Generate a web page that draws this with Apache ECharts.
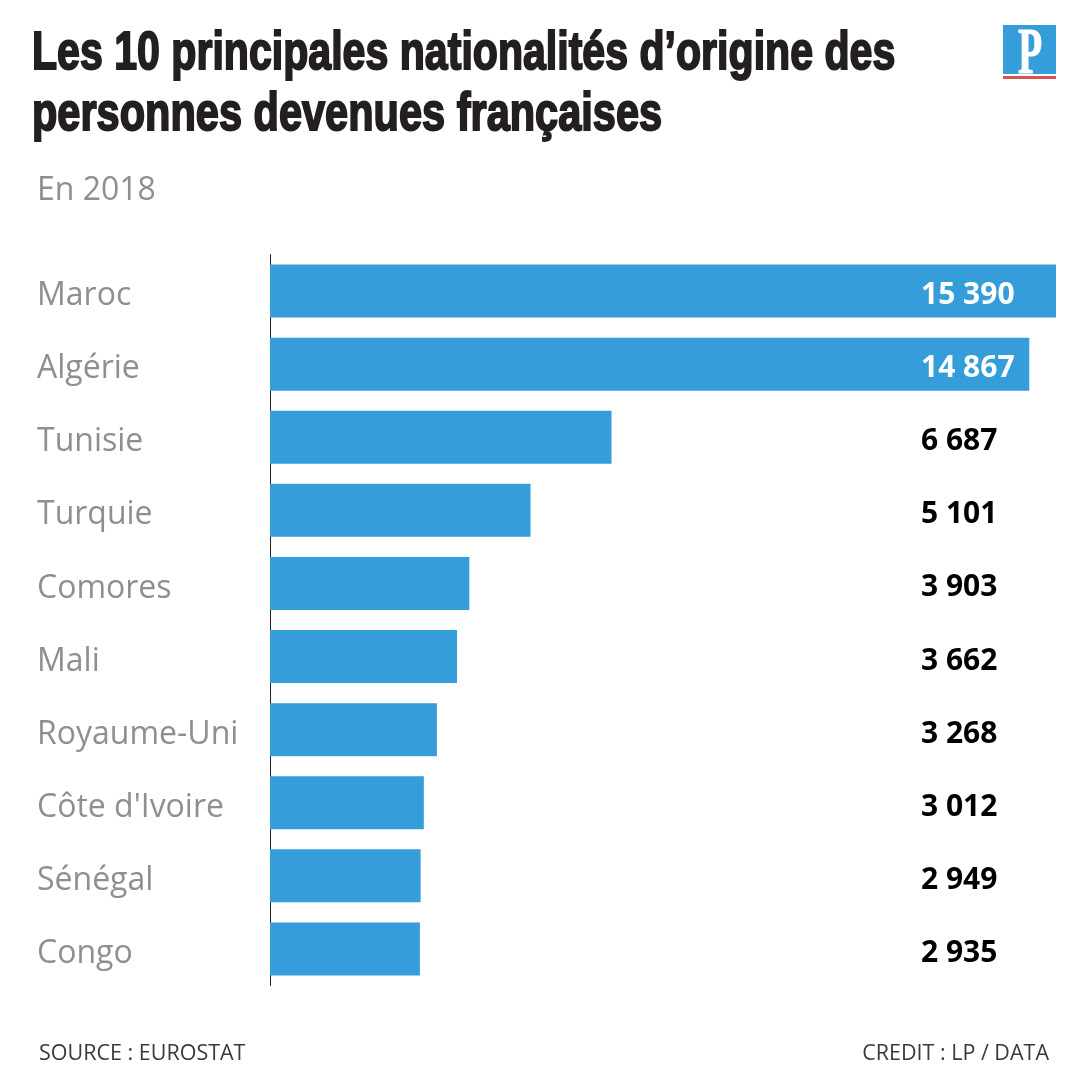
<!DOCTYPE html>
<html>
<head>
<meta charset="utf-8">
<script src="https://cdn.jsdelivr.net/npm/echarts@6/dist/echarts.min.js"></script>
<style>
html, body { margin: 0; padding: 0; background: #fff; }
#chart { width: 1080px; height: 1089px; }
</style>
</head>
<body>
<div id="chart"></div>
<script>
const countries = ['Maroc', 'Algérie', 'Tunisie', 'Turquie', 'Comores', 'Mali', 'Royaume-Uni', "Côte d'Ivoire", 'Sénégal', 'Congo'];
const persons = [15390, 14867, 6687, 5101, 3903, 3662, 3268, 3012, 2949, 2935];
const valueLabels = ['15 390', '14 867', '6 687', '5 101', '3 903', '3 662', '3 268', '3 012', '2 949', '2 935'];

const myChart = echarts.init(document.getElementById('chart'));

// the title face is a heavy condensed one, so squeeze a bold sans
function titleLine(text, y, squeeze) {
    return {
        type: 'text', x: 32, y: y, scaleX: squeeze,
        style: { text: text, fontFamily: 'Liberation Sans', fontSize: 54, fontWeight: 'bold', fill: '#231f20', stroke: '#231f20', lineWidth: 2 }
    };
}

const option = {
    backgroundColor: '#fff',
    animation: false,
    title: [
        {
            text: 'En 2018',
            left: 37, top: 175, padding: 0,
            textStyle: { fontFamily: 'Open Sans', fontSize: 32, fontWeight: 'normal', color: '#8f8f93' }
        },
        {
            text: 'SOURCE : EUROSTAT',
            left: 39, top: 1043, padding: 0,
            textStyle: { fontFamily: 'Open Sans', fontSize: 21.5, fontWeight: 'normal', color: '#3a3a3c' }
        },
        {
            text: 'CREDIT : LP / DATA',
            right: 31, top: 1043, padding: 0,
            textStyle: { fontFamily: 'Open Sans', fontSize: 21.5, fontWeight: 'normal', color: '#3a3a3c' }
        }
    ],
    graphic: [
        titleLine('Les 10 principales nationalités d’origine des', 27, 0.761),
        titleLine('personnes devenues françaises', 88, 0.769),
        { type: 'rect', shape: { x: 1003, y: 25, width: 53, height: 54 }, style: { fill: '#359dd9' } },
        { type: 'rect', shape: { x: 1003, y: 74, width: 53, height: 2 }, style: { fill: '#fff' } },
        { type: 'rect', shape: { x: 1003, y: 76, width: 53, height: 3 }, style: { fill: '#d9534f' } },
        {
            type: 'text', x: 1018, y: 23, scaleX: 0.6,
            style: { text: 'P', fontFamily: 'Liberation Serif', fontSize: 66, fontWeight: 'bold', fill: '#fff', stroke: '#fff', lineWidth: 1 }
        }
    ],
    grid: { left: 270, right: 24, top: 254.5, height: 731 },
    xAxis: { type: 'value', min: 0, max: 15390, show: false },
    yAxis: [
        {
            type: 'category',
            inverse: true,
            data: countries,
            axisTick: { show: false },
            axisLine: { show: true, lineStyle: { color: '#231f20', width: 1 } },
            axisLabel: {
                margin: 233,
                align: 'left',
                verticalAlign: 'top',
                lineHeight: 10,
                fontFamily: 'Open Sans',
                fontSize: 32,
                color: '#8f8f93'
            }
        },
        {
            type: 'category',
            inverse: true,
            position: 'right',
            data: valueLabels,
            axisTick: { show: false },
            axisLine: { show: false },
            z: 5,
            axisLabel: {
                margin: -135,
                align: 'left',
                verticalAlign: 'top',
                lineHeight: 9,
                fontFamily: 'Open Sans',
                fontWeight: 'bold',
                fontSize: 30,
                color: (v, i) => (i < 2 ? '#fff' : '#000')
            }
        }
    ],
    series: [
        {
            type: 'bar',
            data: persons,
            barWidth: 53,
            silent: true,
            itemStyle: { color: '#359dd9' }
        }
    ]
};

myChart.setOption(option);

window.addEventListener('resize', () => {
    myChart.resize();
});
</script>
</body>
</html>
